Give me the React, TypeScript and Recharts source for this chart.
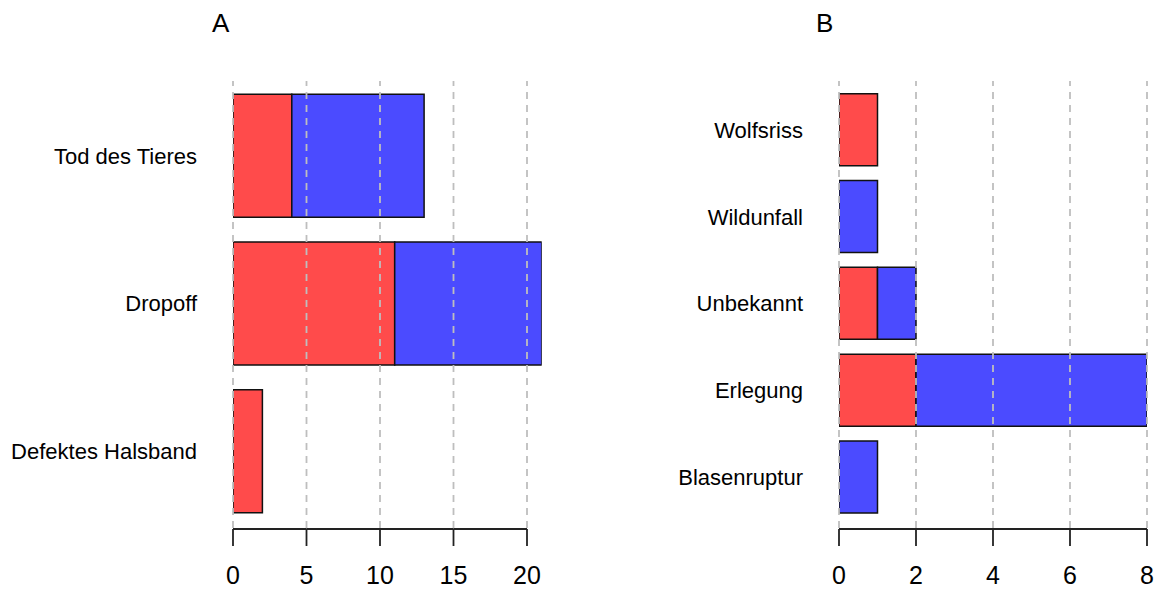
import { BarChart, Bar, XAxis, YAxis, ReferenceLine } from "recharts";

// Panel A
const catsA = ["Tod des Tieres", "Dropoff", "Defektes Halsband"];
const redA = [4, 11, 2];
const blueA = [9, 10, 0];
const ticksA = [0, 5, 10, 15, 20];

// Panel B
const catsB = ["Wolfsriss", "Wildunfall", "Unbekannt", "Erlegung", "Blasenruptur"];
const redB = [1, 0, 1, 2, 0];
const blueB = [0, 1, 1, 6, 1];
const ticksB = [0, 2, 4, 6, 8];

const RED = "#FF4B4B";
const BLUE = "#4B4BFF";
const GRID = "#BEBEBE";
const FONT = '"Liberation Sans", Arial, sans-serif';

type PanelProps = {
  title: string;
  cats: string[];
  red: number[];
  blue: number[];
  ticks: number[];
  domainMax: number;
  left: number;
  width: number;
  yAxisWidth: number;
  marginRight: number;
  titleX: number;
  padTop: number;
  padBottom: number;
};

function Panel(p: PanelProps) {
  const data = p.cats.map((name, i) => ({ name, red: p.red[i], blue: p.blue[i] }));
  const plotWidth = p.width - p.yAxisWidth - p.marginRight;
  const pxPerUnit = plotWidth / p.domainMax;
  const step = p.ticks[1] - p.ticks[0];

  const XTick = (props: any) => {
    const { x, y, index, payload } = props;
    return (
      <g>
        {index > 0 && (
          <line x1={x - step * pxPerUnit} x2={x} y1={y + 1} y2={y + 1} stroke="#222" strokeWidth={1.8} />
        )}
        <line x1={x} x2={x} y1={y + 1} y2={y + 18} stroke="#222" strokeWidth={1.8} />
        <text x={x} y={y + 47} dy="0.355em" textAnchor="middle" fontSize={25} fill="#000" fontFamily={FONT}>
          {payload.value}
        </text>
      </g>
    );
  };

  return (
    <div style={{ position: "absolute", left: p.left, top: 0, width: p.width, height: 590 }}>
      <div
        style={{
          position: "absolute",
          left: p.titleX - p.left,
          top: 10,
          fontFamily: FONT,
          fontSize: 26,
          lineHeight: "26px",
          color: "#000",
        }}
      >
        {p.title}
      </div>
      <BarChart
        width={p.width}
        height={590}
        data={data}
        layout="vertical"
        margin={{ top: 81, right: p.marginRight, left: 0, bottom: 2 }}
        barCategoryGap="8.33%"
      >
        <XAxis
          type="number"
          domain={[0, p.domainMax]}
          ticks={p.ticks}
          allowDataOverflow
          axisLine={false}
          tickLine={false}
          tickSize={0}
          tickMargin={0}
          height={60}
          tick={XTick}
          interval={0}
        />
        <YAxis
          type="category"
          dataKey="name"
          width={p.yAxisWidth}
          axisLine={false}
          tickLine={false}
          tickSize={0}
          tickMargin={36}
          interval={0}
          padding={{ top: p.padTop, bottom: p.padBottom }}
          tick={{ fontSize: 22, fill: "#000", fontFamily: FONT }}
        />
        <Bar dataKey="red" stackId="s" fill={RED} stroke="#111" strokeWidth={1.5} isAnimationActive={false} />
        <Bar dataKey="blue" stackId="s" fill={BLUE} stroke="#111" strokeWidth={1.5} isAnimationActive={false} />
        {p.ticks.map((t) => (
          <ReferenceLine key={t} x={t} stroke={GRID} strokeWidth={1.8} strokeDasharray="7 6" />
        ))}
      </BarChart>
    </div>
  );
}

export default function App() {
  return (
    <div style={{ position: "absolute", left: 0, top: 0, width: 1157, height: 590, background: "#fff" }}>
      <Panel
        title="A"
        cats={catsA}
        red={redA}
        blue={blueA}
        ticks={ticksA}
        domainMax={21}
        left={0}
        width={560}
        yAxisWidth={233}
        marginRight={560 - 233 - 308.7}
        titleX={212}
        padTop={1}
        padBottom={3}
      />
      <Panel
        title="B"
        cats={catsB}
        red={redB}
        blue={blueB}
        ticks={ticksB}
        domainMax={8}
        left={580}
        width={577}
        yAxisWidth={259}
        marginRight={10}
        titleX={816}
        padTop={5.5}
        padBottom={7.5}
      />
    </div>
  );
}
